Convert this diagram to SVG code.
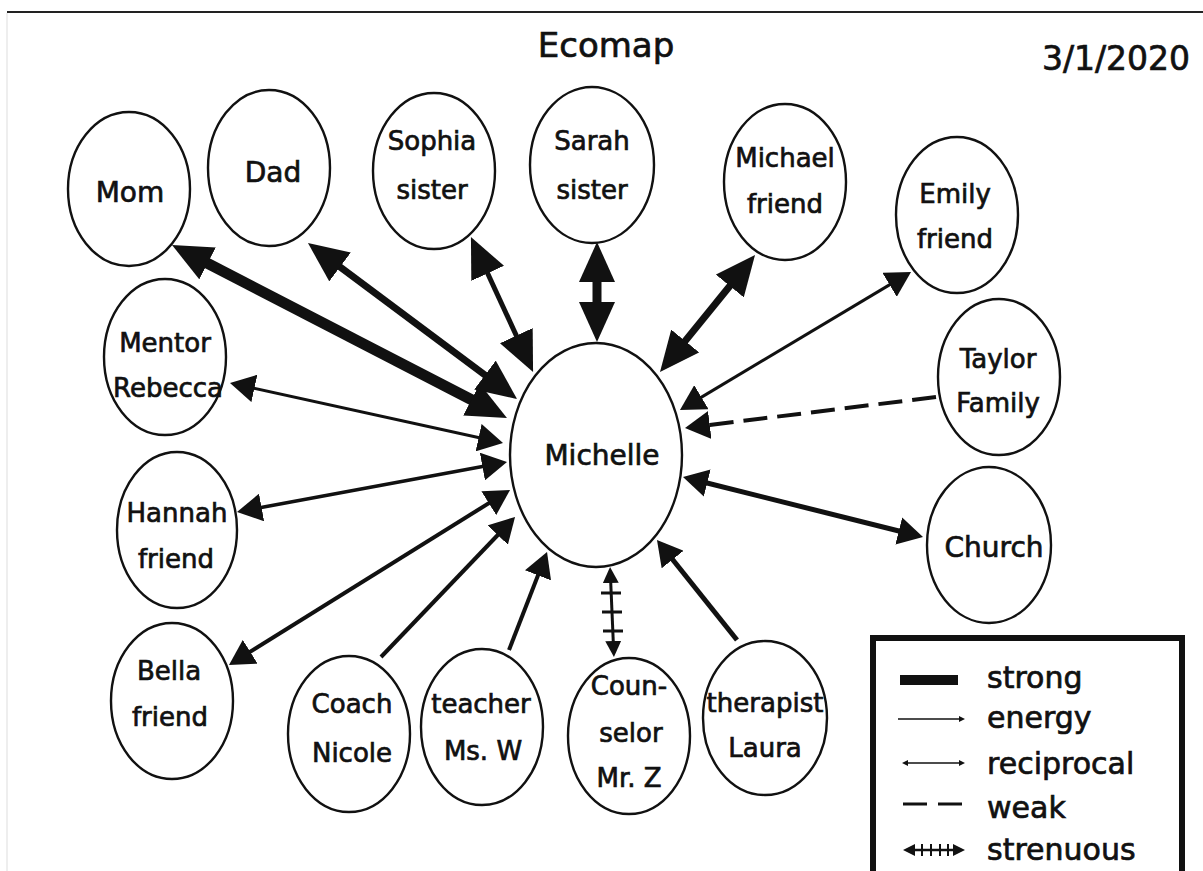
<svg xmlns="http://www.w3.org/2000/svg" width="1203" height="871" viewBox="0 0 1203 871">
<style>
.n ellipse{fill:#fff;stroke:#111;stroke-width:2.4}
text{font-family:"DejaVu Sans","Liberation Sans",sans-serif;fill:#111;stroke:#111;stroke-width:0.7;text-anchor:middle}
.l{font-size:26px}
.b{font-size:28px}
.lg{font-size:30px;text-anchor:start}
.c{fill:none;stroke:#111;stroke-linecap:butt}
</style>
<defs>
<marker id="hl" viewBox="0 0 40 36" markerWidth="40" markerHeight="36" refX="20" refY="18" orient="auto-start-reverse" markerUnits="userSpaceOnUse"><path d="M0,0 L40,18 L0,36 z" fill="#111" stroke="none"/></marker>
<marker id="hm" viewBox="0 0 25 28" markerWidth="25" markerHeight="28" refX="12.5" refY="14" orient="auto-start-reverse" markerUnits="userSpaceOnUse"><path d="M0,0 L25,14 L0,28 z" fill="#111" stroke="none"/></marker>
<marker id="hs" viewBox="0 0 16 16" markerWidth="16" markerHeight="16" refX="8" refY="8" orient="auto-start-reverse" markerUnits="userSpaceOnUse"><path d="M0,0 L16,8 L0,16 z" fill="#111" stroke="none"/></marker>
<marker id="ht" viewBox="0 0 6 6" markerWidth="6" markerHeight="6" refX="3" refY="3" orient="auto-start-reverse" markerUnits="userSpaceOnUse"><path d="M0,0 L6,3 L0,6 z" fill="#111" stroke="none"/></marker>
<marker id="hx" viewBox="0 0 12 12" markerWidth="12" markerHeight="12" refX="6" refY="6" orient="auto-start-reverse" markerUnits="userSpaceOnUse"><path d="M0,0 L12,6 L0,12 z" fill="#111" stroke="none"/></marker>
</defs>
<rect width="1203" height="871" fill="#fff"/>
<line x1="7" y1="12" x2="1203" y2="12" stroke="#222" stroke-width="2"/>
<line x1="7" y1="13" x2="7" y2="871" stroke="#e8e8e8" stroke-width="1.5"/>
<text x="606" y="57" style="font-size:34px">Ecomap</text>
<text x="1116" y="70" style="font-size:33px">3/1/2020</text>

<g id="connectors">
<path class="c" d="M189.8,254.2 L489.2,408.8" stroke-width="11" marker-start="url(#hl)" marker-end="url(#hl)"/>
<path class="c" d="M324,255 L501,387" stroke-width="7" marker-start="url(#hl)" marker-end="url(#hl)"/>
<path class="c" d="M479.3,255.2 L524.7,353.8" stroke-width="5" marker-start="url(#hl)" marker-end="url(#hl)"/>
<path class="c" d="M597,262 L597,322" stroke-width="9" marker-start="url(#hl)" marker-end="url(#hl)"/>
<path class="c" d="M742.4,270.5 L672.6,356.5" stroke-width="7" marker-start="url(#hl)" marker-end="url(#hl)"/>
<path class="c" d="M900.3,278.4 L690.7,403.6" stroke-width="3" marker-start="url(#hm)" marker-end="url(#hm)"/>
<path class="c" d="M936,397 L697.4,426.5" stroke-width="4" stroke-dasharray="24 10" marker-end="url(#hm)"/>
<path class="c" d="M910.9,534 L695.1,480" stroke-width="5" marker-start="url(#hm)" marker-end="url(#hm)"/>
<path class="c" d="M737,640 L664.8,549.8" stroke-width="5" marker-end="url(#hm)"/>
<path class="c" d="M610.4,575 L613.6,649" stroke-width="3" marker-start="url(#hs)" marker-end="url(#hs)"/>
<path class="c" d="M601,593 L621,593 M602,612 L622,612 M603,631 L623,631" stroke-width="3"/>
<path class="c" d="M509,650 L542.5,563.7" stroke-width="4" marker-end="url(#hm)"/>
<path class="c" d="M381,657 L506.4,526" stroke-width="4" marker-end="url(#hm)"/>
<path class="c" d="M239.6,658.4 L499.4,496.6" stroke-width="4" marker-start="url(#hm)" marker-end="url(#hm)"/>
<path class="c" d="M249.3,509.7 L494.7,464.3" stroke-width="3.5" marker-start="url(#hm)" marker-end="url(#hm)"/>
<path class="c" d="M242.2,385.7 L490.8,440.3" stroke-width="3" marker-start="url(#hm)" marker-end="url(#hm)"/>
</g>

<g id="michelle" class="n"><ellipse cx="596" cy="455" rx="86" ry="112"/><text class="b" x="602" y="465">Michelle</text></g>
<g id="mom" class="n"><ellipse cx="129" cy="189" rx="61" ry="77"/><text class="b" x="130" y="202">Mom</text></g>
<g id="dad" class="n"><ellipse cx="269" cy="168" rx="61" ry="78"/><text class="b" x="273" y="182">Dad</text></g>
<g id="sophia" class="n"><ellipse cx="434" cy="171" rx="61" ry="78"/><text class="l" x="432" y="150">Sophia</text><text class="l" x="432" y="199">sister</text></g>
<g id="sarah" class="n"><ellipse cx="592" cy="165" rx="62" ry="78"/><text class="l" x="592" y="150">Sarah</text><text class="l" x="592" y="199">sister</text></g>
<g id="michael" class="n"><ellipse cx="785" cy="182" rx="61" ry="78"/><text class="l" x="785" y="167">Michael</text><text class="l" x="785" y="213">friend</text></g>
<g id="emily" class="n"><ellipse cx="957" cy="215" rx="61" ry="78"/><text class="l" x="955" y="203">Emily</text><text class="l" x="955" y="248">friend</text></g>
<g id="taylor" class="n"><ellipse cx="999" cy="377" rx="61" ry="78"/><text class="l" x="998" y="368">Taylor</text><text class="l" x="998" y="412">Family</text></g>
<g id="mentor" class="n"><ellipse cx="165" cy="357" rx="61" ry="78"/><text class="l" x="165" y="352">Mentor</text><text class="l" x="168" y="397">Rebecca</text></g>
<g id="hannah" class="n"><ellipse cx="177" cy="530" rx="60" ry="78"/><text class="l" x="177" y="522">Hannah</text><text class="l" x="176" y="568">friend</text></g>
<g id="bella" class="n"><ellipse cx="172" cy="701" rx="61" ry="78"/><text class="l" x="169" y="680">Bella</text><text class="l" x="170" y="726">friend</text></g>
<g id="coach" class="n"><ellipse cx="349" cy="734" rx="61" ry="78"/><text class="l" x="352" y="713">Coach</text><text class="l" x="352" y="762">Nicole</text></g>
<g id="teacher" class="n"><ellipse cx="482" cy="727" rx="61" ry="78"/><text class="l" x="481" y="713">teacher</text><text class="l" x="483" y="760">Ms. W</text></g>
<g id="counselor" class="n"><ellipse cx="629" cy="736" rx="61" ry="78"/><text class="l" x="629" y="695">Coun-</text><text class="l" x="631" y="742">selor</text><text class="l" x="629" y="787">Mr. Z</text></g>
<g id="therapist" class="n"><ellipse cx="765" cy="718" rx="62" ry="77"/><text class="l" x="765" y="712">therapist</text><text class="l" x="765" y="757">Laura</text></g>
<g id="church" class="n"><ellipse cx="989" cy="545" rx="62" ry="78"/><text class="b" x="994" y="557">Church</text></g>

<g id="legend">
<rect x="873" y="638" width="309" height="260" fill="#fff" stroke="#111" stroke-width="6"/>
<rect x="900" y="675" width="58" height="10" fill="#111"/>
<path class="c" d="M898,719 L962,719" stroke-width="1.5" marker-end="url(#ht)"/>
<path class="c" d="M905,763 L962,763" stroke-width="1.5" marker-start="url(#ht)" marker-end="url(#ht)"/>
<path class="c" d="M903,804 L927,804 M938,804 L962,804" stroke-width="3"/>
<path class="c" d="M909,850 L959,850" stroke-width="2.5" marker-start="url(#hx)" marker-end="url(#hx)"/>
<path class="c" d="M922,844 L922,856 M931,844 L931,856 M940,844 L940,856 M948,844 L948,856" stroke-width="2"/>
<text class="lg" x="987" y="688">strong</text>
<text class="lg" x="987" y="728">energy</text>
<text class="lg" x="987" y="774">reciprocal</text>
<text class="lg" x="987" y="818">weak</text>
<text class="lg" x="987" y="860">strenuous</text>
</g>
</svg>
